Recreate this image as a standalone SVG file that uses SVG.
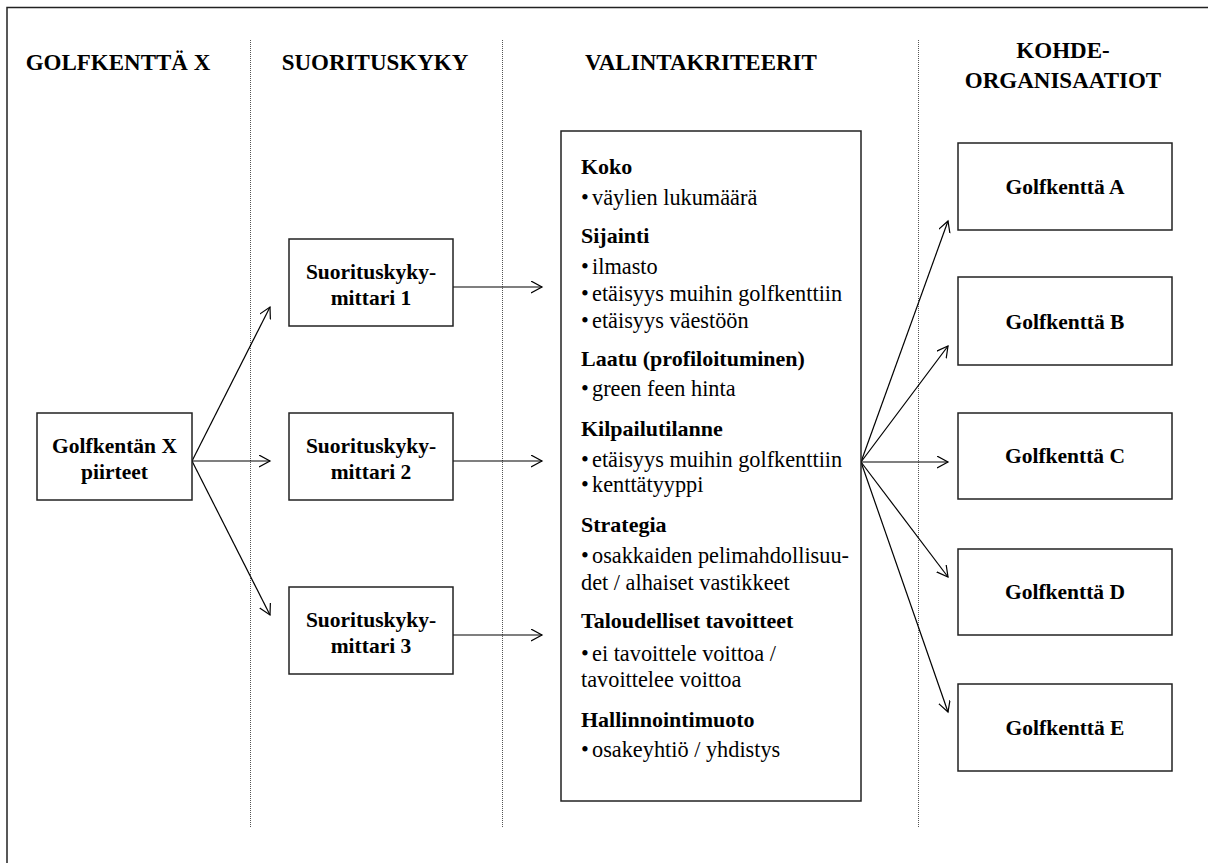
<svg xmlns="http://www.w3.org/2000/svg" width="1208" height="863" viewBox="0 0 1208 863">
<defs>
<marker id="arr" markerWidth="14" markerHeight="14" refX="11" refY="6" orient="auto" markerUnits="userSpaceOnUse">
<path d="M0,0 L11,6 L0,12" fill="none" stroke="#000" stroke-width="1.2"/>
</marker>
<style>
.hdr{font-family:"Liberation Serif","DejaVu Serif",serif;font-weight:bold;font-size:23px;fill:#000;text-anchor:middle}
.bt{font-family:"Liberation Serif","DejaVu Serif",serif;font-weight:bold;font-size:21.5px;fill:#000;text-anchor:middle}
.h{font-family:"Liberation Serif","DejaVu Serif",serif;font-weight:bold;font-size:22px;fill:#000}
.t{font-family:"Liberation Serif","DejaVu Serif",serif;font-weight:normal;font-size:22.3px;fill:#000}
.box{fill:#fff;stroke:#222;stroke-width:1.5}
.sep{stroke:#555;stroke-width:1;stroke-dasharray:1,1;fill:none}
.con{stroke:#000;stroke-width:1.2;fill:none;marker-end:url(#arr)}
</style>
</defs>
<rect x="0" y="0" width="1208" height="863" fill="#fff"/>
<path d="M7,870 V7.5 H1215" fill="none" stroke="#222" stroke-width="1.5"/>
<g id="separators">
<line class="sep" x1="250.5" y1="40" x2="250.5" y2="828"/>
<line class="sep" x1="502.5" y1="40" x2="502.5" y2="828"/>
<line class="sep" x1="918.5" y1="40" x2="918.5" y2="828"/>
</g>
<g id="headers">
<text class="hdr" x="118" y="70">GOLFKENTTÄ X</text>
<text class="hdr" x="375" y="70">SUORITUSKYKY</text>
<text class="hdr" x="701" y="70">VALINTAKRITEERIT</text>
<text class="hdr" x="1063" y="58">KOHDE-</text>
<text class="hdr" x="1063" y="88">ORGANISAATIOT</text>
</g>
<g id="connectors">
<line class="con" x1="192" y1="461" x2="270" y2="307"/>
<line class="con" x1="192" y1="461" x2="270" y2="461"/>
<line class="con" x1="192" y1="461" x2="270" y2="615"/>
<line class="con" x1="453" y1="287" x2="542" y2="287"/>
<line class="con" x1="453" y1="461" x2="542" y2="461"/>
<line class="con" x1="453" y1="635" x2="542" y2="635"/>
<line class="con" x1="861" y1="462" x2="948" y2="221"/>
<line class="con" x1="861" y1="462" x2="948" y2="346"/>
<line class="con" x1="861" y1="462" x2="948" y2="462"/>
<line class="con" x1="861" y1="462" x2="948" y2="577"/>
<line class="con" x1="861" y1="462" x2="948" y2="712"/>
</g>
<g id="node-golfkentan-x">
<rect class="box" x="37" y="413" width="155" height="87"/>
<text class="bt" x="114.5" y="453">Golfkentän X</text>
<text class="bt" x="114.5" y="479">piirteet</text>
</g>
<g id="node-mittari-1">
<rect class="box" x="289" y="239" width="164" height="87"/>
<text class="bt" x="371" y="279">Suorituskyky-</text>
<text class="bt" x="371" y="305">mittari 1</text>
</g>
<g id="node-mittari-2">
<rect class="box" x="289" y="413" width="164" height="87"/>
<text class="bt" x="371" y="453">Suorituskyky-</text>
<text class="bt" x="371" y="479">mittari 2</text>
</g>
<g id="node-mittari-3">
<rect class="box" x="289" y="587" width="164" height="87"/>
<text class="bt" x="371" y="627">Suorituskyky-</text>
<text class="bt" x="371" y="653">mittari 3</text>
</g>
<g id="node-valintakriteerit">
<rect class="box" x="561" y="131" width="300" height="670"/>
<text class="h" x="581" y="174">Koko</text>
<text class="t" y="205"><tspan x="581">•</tspan><tspan x="592">väylien lukumäärä</tspan></text>
<text class="h" x="581" y="243">Sijainti</text>
<text class="t" y="274"><tspan x="581">•</tspan><tspan x="592">ilmasto</tspan></text>
<text class="t" y="301"><tspan x="581">•</tspan><tspan x="592">etäisyys muihin golfkenttiin</tspan></text>
<text class="t" y="328"><tspan x="581">•</tspan><tspan x="592">etäisyys väestöön</tspan></text>
<text class="h" x="581" y="366">Laatu (profiloituminen)</text>
<text class="t" y="396"><tspan x="581">•</tspan><tspan x="592">green feen hinta</tspan></text>
<text class="h" x="581" y="436">Kilpailutilanne</text>
<text class="t" y="467"><tspan x="581">•</tspan><tspan x="592">etäisyys muihin golfkenttiin</tspan></text>
<text class="t" y="492"><tspan x="581">•</tspan><tspan x="592">kenttätyyppi</tspan></text>
<text class="h" x="581" y="532">Strategia</text>
<text class="t" y="563"><tspan x="581">•</tspan><tspan x="592">osakkaiden pelimahdollisuu-</tspan></text>
<text class="t" x="581" y="590">det / alhaiset vastikkeet</text>
<text class="h" x="581" y="628">Taloudelliset tavoitteet</text>
<text class="t" y="661"><tspan x="581">•</tspan><tspan x="592">ei tavoittele voittoa /</tspan></text>
<text class="t" x="581" y="687">tavoittelee voittoa</text>
<text class="h" x="581" y="727">Hallinnointimuoto</text>
<text class="t" y="757"><tspan x="581">•</tspan><tspan x="592">osakeyhtiö / yhdistys</tspan></text>
</g>
<g id="node-golfkentta-a">
<rect class="box" x="958" y="143" width="214" height="87"/>
<text class="bt" x="1065" y="194">Golfkenttä A</text>
</g>
<g id="node-golfkentta-b">
<rect class="box" x="958" y="277" width="214" height="88"/>
<text class="bt" x="1065" y="329">Golfkenttä B</text>
</g>
<g id="node-golfkentta-c">
<rect class="box" x="958" y="413" width="214" height="86"/>
<text class="bt" x="1065" y="463">Golfkenttä C</text>
</g>
<g id="node-golfkentta-d">
<rect class="box" x="958" y="549" width="214" height="86"/>
<text class="bt" x="1065" y="599">Golfkenttä D</text>
</g>
<g id="node-golfkentta-e">
<rect class="box" x="958" y="684" width="214" height="87"/>
<text class="bt" x="1065" y="735">Golfkenttä E</text>
</g>
</svg>
